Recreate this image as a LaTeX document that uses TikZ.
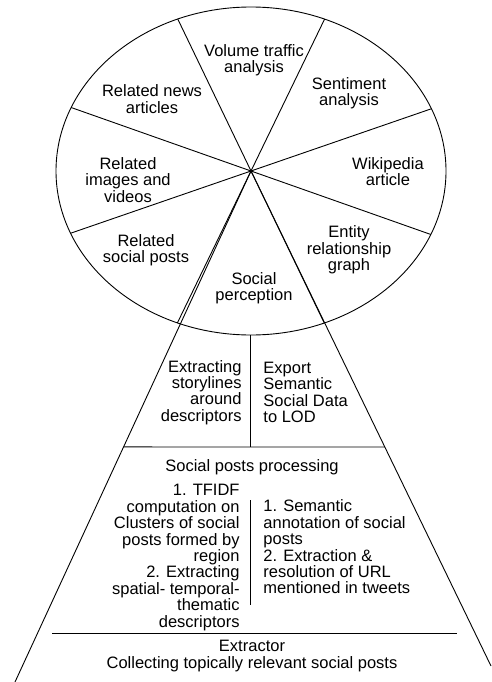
\documentclass[tikz,border=0pt]{standalone}
\usepackage{fontspec}
\setmainfont{Liberation Sans}
\usetikzlibrary{calc}
\begin{document}
\begin{tikzpicture}[x=1pt, y=-1pt, line width=0.9pt,
  lbl/.style={inner sep=0pt, align=center, font=\fontsize{16.5}{16.4}\selectfont},
  lblr/.style={lbl, align=right, anchor=east},
  lbll/.style={lbl, align=left, anchor=west}]
\useasboundingbox (0,0) rectangle (491,682);

% hub of the wheel and apex of the pyramid
\coordinate (c) at (251,171);
\coordinate (bl) at (15,682);
\coordinate (br) at (491,666);

% the wheel and its spokes
\draw (c) ellipse [x radius=195, y radius=164];
\begin{scope}
  \clip (c) ellipse [x radius=195, y radius=164];
  \draw ($(c)+(-80,-166)$) -- ($(c)+(80,166)$);
  \draw ($(c)+(78,-161)$) -- ($(c)+(-78,161)$);
  \draw ($(c)+(-200,-70.6)$) -- ($(c)+(200,70.6)$);
  \draw ($(c)+(200,-69)$) -- ($(c)+(-200,69)$);
\end{scope}

% pyramid sides
\draw (c) -- (bl);
\draw (c) -- (br);

% layer dividers
\coordinate (l1) at ($(c)!0.540!(bl)$);
\coordinate (r1) at ($(c)!0.5576!(br)$);
\draw (l1) -- (r1);
\coordinate (wb) at (250,335);
\coordinate (m1) at (250,447);
\draw (wb) -- (m1);
\coordinate (p1) at (250,500);
\coordinate (p2) at (250,605);
\draw (p1) -- (p2);
\coordinate (e1) at (52,633);
\coordinate (e2) at (457,633);
\draw (e1) -- (e2);

% wheel labels
\node[lbl] (vol) at (254,60) {Volume traffic\\analysis};
\node[lbl] (sent) at (349,93) {Sentiment\\analysis};
\node[lbl] (wiki) at (388,171.5) {Wikipedia\\article};
\node[lbl] (ent) at (349,250) {Entity\\relationship\\graph};
\node[lbl] (soc) at (254,288) {Social\\perception};
\node[lbl] (rsp) at (146,250) {Related\\social posts};
\node[lbl] (rimg) at (128,180) {Related\\images and\\videos};
\node[lbl] (rnews) at (152,99) {Related news\\articles};

% upper layer
\node[lblr] (story) at (242,392.5) {Extracting\\storylines\\around\\descriptors};
\node[lbll] (lod) at (263,392.5) {Export\\Semantic\\Social Data\\to LOD};

% processing layer
\node[lbl] (proc) at (252,467) {Social posts processing};
\node[lblr] (tfidf) at (240,557.5) {1. TFIDF\\computation on\\Clusters of social\\posts formed by\\region\\2. Extracting\\spatial- temporal-\\thematic\\descriptors};
\node[lbll] (sem) at (263,547) {1. Semantic\\annotation of social\\posts\\2. Extraction \&\\resolution of URL\\mentioned in tweets};

% extractor layer
\node[lbl] (extr) at (252,656) {Extractor\\Collecting topically relevant social posts};
\end{tikzpicture}
\end{document}
